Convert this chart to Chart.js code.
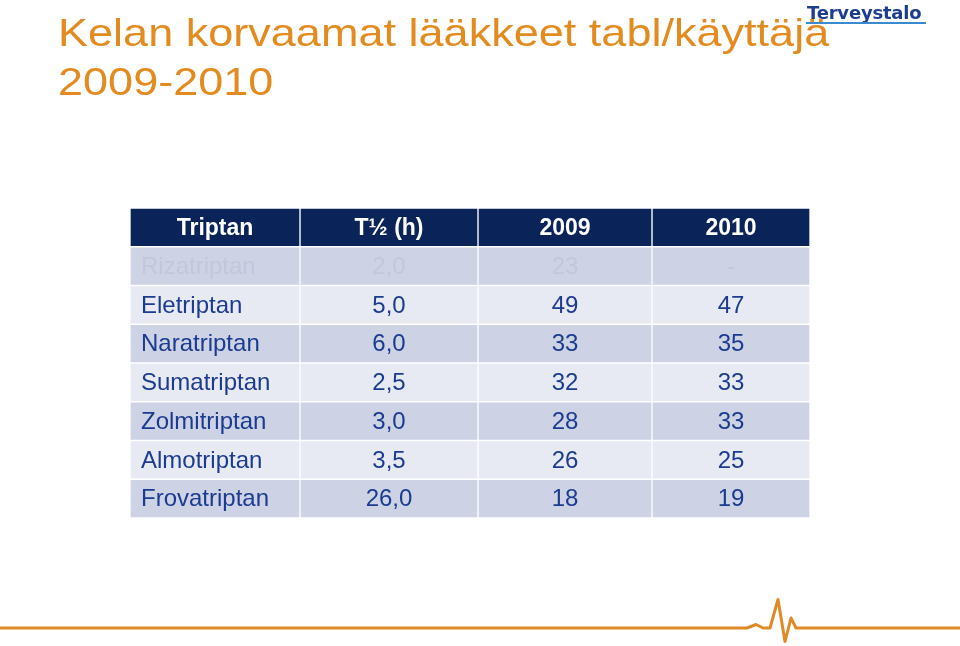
<!DOCTYPE html>
<html><head><meta charset="utf-8">
<script src="https://cdn.jsdelivr.net/npm/chart.js@4.4.1/dist/chart.umd.min.js"></script>
<style>
html,body{margin:0;padding:0;background:#fff;}
#wrap{position:relative;width:960px;height:646px;overflow:hidden;background:#fff;}
canvas{position:absolute;left:0;top:0;}
.title{position:absolute;left:58px;font-family:"Liberation Sans",Arial,sans-serif;font-size:38.5px;color:#e38b1f;transform-origin:0 0;transform:scaleX(1.17);white-space:nowrap;line-height:1;}
#logo{position:absolute;left:807px;top:3.5px;font-family:"DejaVu Sans",sans-serif;font-weight:bold;font-size:18px;line-height:1;color:#1d3e8e;white-space:nowrap;letter-spacing:-0.2px;}
#logoline{position:absolute;left:806px;top:22px;width:120px;height:2px;background:#3a8ad0;}
svg{position:absolute;left:0;top:0;}
</style></head>
<body>
<div id="wrap">
  <canvas id="c" width="960" height="646"></canvas>
  <div class="title" style="top:14.4px">Kelan korvaamat lääkkeet tabl/käyttäjä</div>
  <div class="title" style="top:63.4px">2009-2010</div>
  <div id="logo">Terveystalo</div>
  <div id="logoline"></div>
  <svg width="960" height="646"><polyline points="0,628 747,628 751,626.5 756,624.5 760,626.5 763,628 770,628 778,599.5 785,641.5 791,618 796,628 960,628" fill="none" stroke="#e08a27" stroke-width="3" stroke-linejoin="round"/></svg>
</div>
<script>
const headers = ['Triptan', 'T½ (h)', '2009', '2010'];
const triptans = ['Rizatriptan','Eletriptan','Naratriptan','Sumatriptan','Zolmitriptan','Almotriptan','Frovatriptan'];
const halfLifeH = [2.0, 5.0, 6.0, 2.5, 3.0, 3.5, 26.0];
const users2009 = [23, 49, 33, 32, 28, 26, 18];
const users2010 = [null, 47, 35, 33, 33, 25, 19];

// layout of the table columns (scale units)
const colEdges = [0, 170, 348, 522, 680];
const NAVY = '#0a2358', DARK = '#cdd2e5', LIGHT = '#e8eaf3';

const rowLabels = [headers[0], ...triptans];

function textFor(i, j) {
  if (i === 0) return headers[j];
  const r = i - 1;
  if (j === 0) return triptans[r];
  if (j === 1) return halfLifeH[r].toFixed(1).replace('.', ',');
  if (j === 2) return String(users2009[r]);
  return users2010[r] == null ? '-' : String(users2010[r]);
}

const datasets = headers.map((h, j) => ({
  label: h,
  data: rowLabels.map(() => [colEdges[j], colEdges[j + 1]]),
  backgroundColor: rowLabels.map((_, i) => i === 0 ? NAVY : (i % 2 === 1 ? DARK : LIGHT)),
  borderColor: '#ffffff',
  borderWidth: 1,
  borderSkipped: false,
  grouped: false,
  barPercentage: 1,
  categoryPercentage: 1
}));

const cellText = {
  id: 'cellText',
  afterDatasetsDraw(chart) {
    const ctx = chart.ctx;
    chart.data.datasets.forEach((ds, j) => {
      const meta = chart.getDatasetMeta(j);
      meta.data.forEach((el, i) => {
        const t = textFor(i, j);
        const left = Math.min(el.x, el.base), right = Math.max(el.x, el.base);
        ctx.save();
        if (i === 0) { ctx.font = 'bold 23px "Liberation Sans", Arial, sans-serif'; ctx.fillStyle = '#ffffff'; }
        else { ctx.font = '24px "Liberation Sans", Arial, sans-serif'; ctx.fillStyle = i === 1 ? '#c2c7db' : '#1a3b90'; }
        ctx.textBaseline = 'middle';
        if (j === 0 && i > 0) { ctx.textAlign = 'left'; ctx.fillText(t, left + 11, el.y + 1); }
        else { ctx.textAlign = 'center'; ctx.fillText(t, (left + right) / 2, el.y + 1); }
        ctx.restore();
      });
    });
  }
};

new Chart(document.getElementById('c'), {
  type: 'bar',
  data: { labels: rowLabels, datasets },
  options: {
    indexAxis: 'y',
    responsive: false,
    animation: false,
    devicePixelRatio: 1,
    layout: { padding: { left: 130, right: 150, top: 208, bottom: 128 } },
    scales: {
      x: { type: 'linear', min: 0, max: 680, display: false },
      y: { type: 'category', display: false, offset: true }
    },
    plugins: { legend: { display: false }, tooltip: { enabled: false }, title: { display: false } }
  },
  plugins: [cellText]
});
</script>
</body></html>
